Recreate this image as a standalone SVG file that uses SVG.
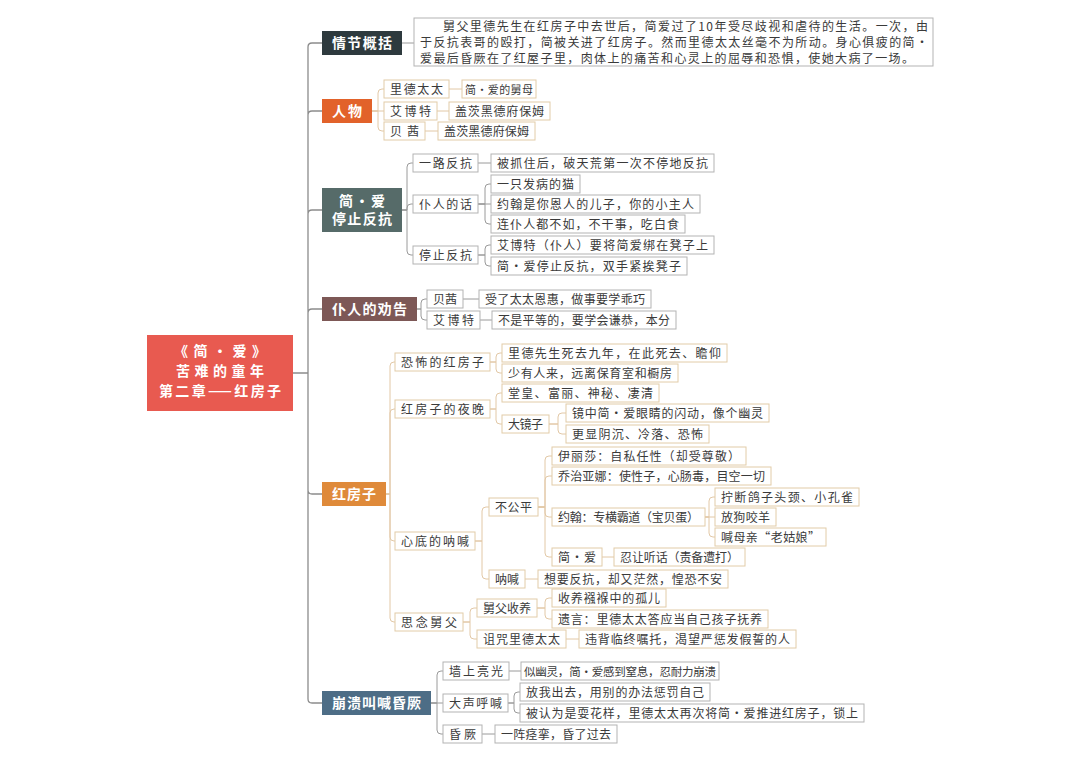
<svg xmlns="http://www.w3.org/2000/svg" width="1080" height="763" viewBox="0 0 1080 763">
<style>
.bg{fill:#fff}
.b{fill:#fff;stroke:#b3b3b3;stroke-width:1}
.bb{fill:#fff;stroke:#e2cca8;stroke-width:1}
.t{font-family:"Noto Sans CJK SC","Noto Sans",sans-serif;font-size:12px;fill:#3a3a3a}
.w{font-family:"Noto Sans CJK SC","Noto Sans",sans-serif;font-size:14px;fill:#fff;font-weight:bold}
.c{fill:none;stroke:#9a9a9a;stroke-width:1}
.cb{fill:none;stroke:#e2c8a6;stroke-width:1}
.tr{fill:none;stroke:#8c8c8c;stroke-width:1.3}
</style>
<rect class="bg" x="0" y="0" width="1080" height="763"/>
<g id="connectors">
<path class="tr" d="M293,373H308 M308,373V47Q308,43 312,43H322 M308,373V115Q308,111 312,111H322 M308,373V214Q308,210 312,210H322 M308,373V313Q308,309 312,309H322 M308,373V490Q308,494 312,494H322 M308,373V699Q308,703 312,703H322"/>
<path class="c" d="M402,43H414"/>
<path class="cb" d="M372,111H378V93Q378,89 382,89H384 M372,111H384 M372,111H378V127Q378,131 382,131H384 M449,89H462 M437,111H449 M425,131H438"/>
<path class="c" d="M402,210H407V167Q407,163 411,163H413 M402,210H407V208Q407,204 411,204H413 M402,210H407V251Q407,255 411,255H413 M478,163H491 M478,204H485V188Q485,184 489,184H491 M478,204H491 M478,204H485V220Q485,224 489,224H491 M478,255H485V249Q485,245 489,245H491 M478,255H485V262Q485,266 489,266H491"/>
<path class="c" d="M417,309H421V303Q421,299 425,299H427 M417,309H421V316Q421,320 425,320H427 M463,299H479 M480,320H492"/>
<path class="cb" d="M386,494H390V366Q390,362 394,362H395 M386,494H390V413Q390,409 394,409H395 M386,494H390V537Q390,541 394,541H395 M386,494H390V618Q390,622 394,622H395
M490,362H496V357Q496,353 500,353H502 M490,362H496V369Q496,373 500,373H502
M490,409H496V397Q496,393 500,393H502 M490,409H496V420Q496,424 500,424H502
M549,424H558V417Q558,413 562,413H566 M549,424H558V430Q558,434 562,434H566
M475,541H482V511Q482,507 486,507H489 M475,541H482V575Q482,579 486,579H489
M538,507H545V460Q545,456 549,456H552 M538,507H545V480Q545,476 549,476H552 M538,507H545V513Q545,517 549,517H552 M538,507H545V553Q545,557 549,557H552
M705,517H709V501Q709,497 713,497H715 M705,517H715 M705,517H709V533Q709,537 713,537H715
M602,557H614 M525,579H538
M463,622H470V612Q470,608 474,608H477 M463,622H470V635Q470,639 474,639H477
M537,608H545V602Q545,598 549,598H552 M537,608H545V615Q545,619 549,619H552
M566,639H579"/>
<path class="c" d="M431,703H437V675Q437,671 441,671H443 M431,703H443 M431,703H437V730Q437,734 441,734H443 M509,671H521 M508,703H514V696Q514,692 518,692H520 M508,703H514V709Q514,713 518,713H520 M482,734H495"/>
</g>

<g id="root">
<rect x="147" y="335" width="146" height="76" fill="#e85a50"/>
<text class="w" x="220" y="356" text-anchor="middle" textLength="92">《简・爱》</text>
<text class="w" x="220" y="376" text-anchor="middle" textLength="88">苦难的童年</text>
<text class="w" x="220" y="396" text-anchor="middle" textLength="122">第二章——红房子</text>
</g>

<g id="n-summary-head"><rect x="322" y="31" width="80" height="24" fill="#2e3a3e"/><text class="w" x="332" y="48" textLength="60">情节概括</text></g>
<g id="n-summary"><rect class="b" x="414" y="18" width="519" height="48" stroke="#999"/>
<text class="t" x="443" y="30.5" textLength="485">舅父里德先生在红房子中去世后，简爱过了10年受尽歧视和虐待的生活。一次，由</text>
<text class="t" x="420" y="46.5" textLength="508">于反抗表哥的殴打，简被关进了红房子。然而里德太太丝毫不为所动。身心俱疲的简・</text>
<text class="t" x="420" y="62.5" textLength="494">爱最后昏厥在了红屋子里，肉体上的痛苦和心灵上的屈辱和恐惧，使她大病了一场。</text>
</g>

<g id="n-renwu"><rect x="322" y="99" width="50" height="24" fill="#e2622a"/><text class="w" x="332" y="116" textLength="30">人物</text></g>
<g id="n-reed"><rect class="bb" x="384" y="80" width="65" height="18"/><text class="t" x="390" y="93.5" textLength="53">里德太太</text></g>
<g id="n-reed-c"><rect class="bb" x="462" y="80" width="74" height="18"/><text class="t" x="465" y="93.5" style="font-size:11px" textLength="68">简・爱的舅母</text></g>
<g id="n-abbot"><rect class="bb" x="384" y="102" width="53" height="18"/><text class="t" x="390" y="115.5" textLength="41">艾博特</text></g>
<g id="n-abbot-c"><rect class="bb" x="449" y="102" width="101" height="18"/><text class="t" x="455" y="115.5" textLength="89">盖茨黑德府保姆</text></g>
<g id="n-bessie"><rect class="bb" x="384" y="122" width="41" height="18"/><text class="t" x="390" y="135.5" textLength="29">贝茜</text></g>
<g id="n-bessie-c"><rect class="bb" x="438" y="122" width="97" height="18"/><text class="t" x="444" y="135.5" textLength="85">盖茨黑德府保姆</text></g>

<g id="n-jane"><rect x="322" y="188" width="80" height="44" fill="#566b69"/><text class="w" x="362" y="206" text-anchor="middle" textLength="46">简・爱</text><text class="w" x="332" y="224" textLength="60">停止反抗</text></g>
<g id="n-fight"><rect class="b" x="413" y="154" width="65" height="18"/><text class="t" x="419" y="167.5" textLength="53">一路反抗</text></g>
<g id="n-fight-c"><rect class="b" x="491" y="154" width="223" height="18"/><text class="t" x="497" y="167.5" textLength="211">被抓住后，破天荒第一次不停地反抗</text></g>
<g id="n-words"><rect class="b" x="413" y="195" width="65" height="18"/><text class="t" x="419" y="208.5" textLength="53">仆人的话</text></g>
<g id="n-words-1"><rect class="b" x="491" y="175" width="89" height="18"/><text class="t" x="497" y="188.5" textLength="77">一只发病的猫</text></g>
<g id="n-words-2"><rect class="b" x="491" y="195" width="209" height="18"/><text class="t" x="497" y="208.5" textLength="197">约翰是你恩人的儿子，你的小主人</text></g>
<g id="n-words-3"><rect class="b" x="491" y="215" width="194" height="18"/><text class="t" x="497" y="228.5" textLength="182">连仆人都不如，不干事，吃白食</text></g>
<g id="n-stop"><rect class="b" x="413" y="246" width="65" height="18"/><text class="t" x="419" y="259.5" textLength="53">停止反抗</text></g>
<g id="n-stop-1"><rect class="b" x="491" y="236" width="223" height="18"/><text class="t" x="497" y="249.5" textLength="211">艾博特（仆人）要将简爱绑在凳子上</text></g>
<g id="n-stop-2"><rect class="b" x="491" y="257" width="196" height="18"/><text class="t" x="497" y="270.5" textLength="184">简・爱停止反抗，双手紧挨凳子</text></g>

<g id="n-advice"><rect x="322" y="297" width="95" height="24" fill="#7d5856"/><text class="w" x="332" y="314" textLength="75">仆人的劝告</text></g>
<g id="n-adv-bessie"><rect class="b" x="427" y="290" width="36" height="18"/><text class="t" x="433" y="303.5" textLength="24">贝茜</text></g>
<g id="n-adv-bessie-c"><rect class="b" x="479" y="290" width="172" height="18"/><text class="t" x="485" y="303.5" textLength="160">受了太太恩惠，做事要学乖巧</text></g>
<g id="n-adv-abbot"><rect class="b" x="427" y="311" width="53" height="18"/><text class="t" x="433" y="324.5" textLength="41">艾博特</text></g>
<g id="n-adv-abbot-c"><rect class="b" x="492" y="311" width="184" height="18"/><text class="t" x="498" y="324.5" textLength="172">不是平等的，要学会谦恭，本分</text></g>

<g id="n-redroom"><rect x="322" y="482" width="64" height="24" fill="#df8a3a"/><text class="w" x="332" y="499" textLength="44">红房子</text></g>
<g id="n-scary"><rect class="bb" x="395" y="353" width="95" height="18"/><text class="t" x="401" y="366.5" textLength="83">恐怖的红房子</text></g>
<g id="n-scary-1"><rect class="bb" x="502" y="344" width="225" height="18"/><text class="t" x="508" y="357.5" textLength="213">里德先生死去九年，在此死去、瞻仰</text></g>
<g id="n-scary-2"><rect class="bb" x="502" y="364" width="176" height="18"/><text class="t" x="508" y="377.5" textLength="164">少有人来，远离保育室和橱房</text></g>
<g id="n-night"><rect class="bb" x="395" y="400" width="95" height="18"/><text class="t" x="401" y="413.5" textLength="83">红房子的夜晚</text></g>
<g id="n-night-1"><rect class="bb" x="502" y="384" width="157" height="18"/><text class="t" x="508" y="397.5" textLength="145">堂皇、富丽、神秘、凄清</text></g>
<g id="n-mirror"><rect class="bb" x="502" y="415" width="47" height="18"/><text class="t" x="508" y="428.5" textLength="35">大镜子</text></g>
<g id="n-mirror-1"><rect class="bb" x="566" y="404" width="203" height="18"/><text class="t" x="572" y="417.5" textLength="191">镜中简・爱眼睛的闪动，像个幽灵</text></g>
<g id="n-mirror-2"><rect class="bb" x="566" y="425" width="143" height="18"/><text class="t" x="572" y="438.5" textLength="131">更显阴沉、冷落、恐怖</text></g>
<g id="n-cry"><rect class="bb" x="395" y="532" width="80" height="18"/><text class="t" x="401" y="545.5" textLength="68">心底的呐喊</text></g>
<g id="n-unfair"><rect class="bb" x="489" y="498" width="49" height="18"/><text class="t" x="495" y="511.5" textLength="37">不公平</text></g>
<g id="n-eliza"><rect class="bb" x="552" y="447" width="194" height="18"/><text class="t" x="558" y="460.5" textLength="182">伊丽莎：自私任性（却受尊敬）</text></g>
<g id="n-georgiana"><rect class="bb" x="552" y="467" width="219" height="18"/><text class="t" x="558" y="480.5" textLength="207">乔治亚娜：使性子，心肠毒，目空一切</text></g>
<g id="n-john"><rect class="bb" x="552" y="508" width="153" height="18"/><text class="t" x="558" y="521.5" textLength="141">约翰：专横霸道（宝贝蛋）</text></g>
<g id="n-john-1"><rect class="bb" x="715" y="488" width="144" height="18"/><text class="t" x="721" y="501.5" textLength="132">拧断鸽子头颈、小孔雀</text></g>
<g id="n-john-2"><rect class="bb" x="715" y="508" width="61" height="18"/><text class="t" x="721" y="521.5" textLength="49">放狗咬羊</text></g>
<g id="n-john-3"><rect class="bb" x="715" y="528" width="111" height="18"/><text class="t" x="721" y="541.5" textLength="99">喊母亲“老姑娘”</text></g>
<g id="n-jane2"><rect class="bb" x="552" y="548" width="50" height="18"/><text class="t" x="558" y="561.5" textLength="38">简・爱</text></g>
<g id="n-jane2-c"><rect class="bb" x="614" y="548" width="131" height="18"/><text class="t" x="620" y="561.5" textLength="119">忍让听话（责备遭打）</text></g>
<g id="n-shout"><rect class="bb" x="489" y="570" width="36" height="18"/><text class="t" x="495" y="583.5" textLength="24">呐喊</text></g>
<g id="n-shout-c"><rect class="bb" x="538" y="570" width="190" height="18"/><text class="t" x="544" y="583.5" textLength="178">想要反抗，却又茫然，惶恐不安</text></g>
<g id="n-uncle"><rect class="bb" x="395" y="613" width="68" height="18"/><text class="t" x="401" y="626.5" textLength="56">思念舅父</text></g>
<g id="n-adopt"><rect class="bb" x="477" y="599" width="60" height="18"/><text class="t" x="483" y="612.5" textLength="48">舅父收养</text></g>
<g id="n-adopt-1"><rect class="bb" x="552" y="589" width="114" height="18"/><text class="t" x="558" y="602.5" textLength="102">收养襁褓中的孤儿</text></g>
<g id="n-adopt-2"><rect class="bb" x="552" y="610" width="216" height="18"/><text class="t" x="558" y="623.5" textLength="204">遗言：里德太太答应当自己孩子抚养</text></g>
<g id="n-curse"><rect class="bb" x="477" y="630" width="89" height="18"/><text class="t" x="483" y="643.5" textLength="77">诅咒里德太太</text></g>
<g id="n-curse-c"><rect class="bb" x="579" y="630" width="217" height="18"/><text class="t" x="585" y="643.5" textLength="205">违背临终嘱托，渴望严惩发假誓的人</text></g>

<g id="n-collapse"><rect x="322" y="691" width="109" height="24" fill="#4d6d86"/><text class="w" x="332" y="708" textLength="89">崩溃叫喊昏厥</text></g>
<g id="n-light"><rect class="b" x="443" y="662" width="66" height="18"/><text class="t" x="449" y="675.5" textLength="54">墙上亮光</text></g>
<g id="n-light-c"><rect class="b" x="521" y="662" width="198" height="18"/><text class="t" x="524" y="675.5" style="font-size:11.5px" textLength="192">似幽灵，简・爱感到窒息，忍耐力崩溃</text></g>
<g id="n-loud"><rect class="b" x="443" y="694" width="65" height="18"/><text class="t" x="449" y="707.5" textLength="53">大声呼喊</text></g>
<g id="n-loud-1"><rect class="b" x="520" y="683" width="190" height="18"/><text class="t" x="526" y="696.5" textLength="178">放我出去，用别的办法惩罚自己</text></g>
<g id="n-loud-2"><rect class="b" x="520" y="704" width="344" height="18"/><text class="t" x="526" y="717.5" textLength="332">被认为是耍花样，里德太太再次将简・爱推进红房子，锁上</text></g>
<g id="n-faint"><rect class="b" x="443" y="725" width="39" height="18"/><text class="t" x="449" y="738.5" textLength="27">昏厥</text></g>
<g id="n-faint-c"><rect class="b" x="495" y="725" width="122" height="18"/><text class="t" x="501" y="738.5" textLength="110">一阵痉挛，昏了过去</text></g>
</svg>
